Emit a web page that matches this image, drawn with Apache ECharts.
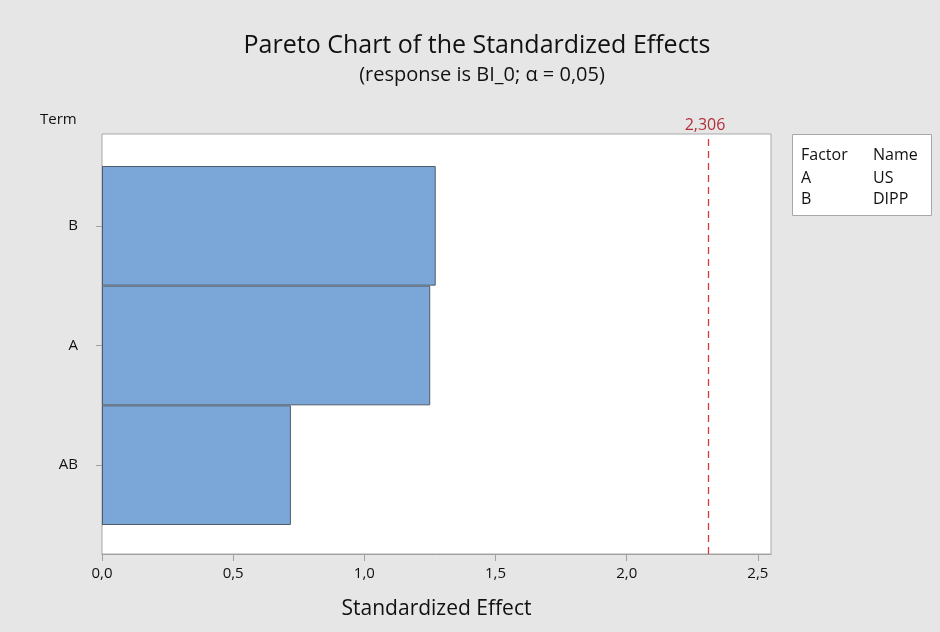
<!DOCTYPE html>
<html>
<head>
<meta charset="utf-8">
<script src="https://cdn.jsdelivr.net/npm/echarts@6/dist/echarts.min.js"></script>
<style>
html,body{margin:0;padding:0;background:#e6e6e6;}
#chart{width:940px;height:632px;}
</style>
</head>
<body>
<div id="chart"></div>
<script>
// ---- data ----
var terms = ['AB', 'A', 'B'];          // bottom to top
var effects = [0.720, 1.251, 1.272];
var criticalValue = 2.306;
var criticalLabel = '2,306';
var xMin = 0, xMax = 2.55, xInterval = 0.5;
var legendFactors = ['A', 'B'];
var legendNames = ['US', 'DIPP'];
var titleText = 'Pareto Chart of the Standardized Effects';
var subtitleText = '(response is BI_0; \u03b1 = 0,05)';
var xAxisTitle = 'Standardized Effect';
var yAxisTitle = 'Term';

var FONT = '"Open Sans", "Noto Sans", sans-serif';
var TXT = '#111111';
var chart = echarts.init(document.getElementById('chart'));

var legendTexts = [
  {type:'text', x:801, y:155, style:{text:'Factor', font:'16px ' + FONT, fill:TXT, textVerticalAlign:'middle'}},
  {type:'text', x:873, y:155, style:{text:'Name', font:'16px ' + FONT, fill:TXT, textVerticalAlign:'middle'}}
];
legendFactors.forEach(function (f, i) {
  legendTexts.push({type:'text', x:801, y:178 + i * 21.5, style:{text:f, font:'16px ' + FONT, fill:TXT, textVerticalAlign:'middle'}});
  legendTexts.push({type:'text', x:873, y:178 + i * 21.5, style:{text:legendNames[i], font:'16px ' + FONT, fill:TXT, textVerticalAlign:'middle'}});
});

var option = {
  backgroundColor: '#e6e6e6',
  animation: false,
  textStyle: {fontFamily: FONT},
  graphic: [
    {type:'text', x:477, y:46, style:{text:titleText, font:'25px ' + FONT, fill:TXT, textAlign:'center', textVerticalAlign:'middle'}},
    {type:'text', x:482, y:75, style:{text:subtitleText, font:'20px ' + FONT, fill:TXT, textAlign:'center', textVerticalAlign:'middle'}},
    {type:'text', x:40, y:120, style:{text:yAxisTitle, font:'15px ' + FONT, fill:TXT, textAlign:'left', textVerticalAlign:'middle'}},
    {type:'rect', shape:{x:792.5, y:134.5, width:139, height:81}, style:{fill:'#ffffff', stroke:'#a8a8a8', lineWidth:1}}
  ].concat(legendTexts),
  grid: [
    {left:102, right:169, top:134, bottom:78, show:true, backgroundColor:'#ffffff', borderColor:'#a8a8a8', borderWidth:1, containLabel:false, outerBoundsMode:'none'},
    {left:102, right:169, top:166, bottom:107, containLabel:false, outerBoundsMode:'none'}
  ],
  xAxis: [
    {
      gridIndex:0, type:'value', min:xMin, max:xMax, interval:xInterval,
      name: xAxisTitle, nameLocation:'middle', nameGap:45,
      nameTextStyle:{fontSize:21, color:TXT, fontFamily:FONT},
      axisLine:{show:true, lineStyle:{color:'#a0a0a0'}},
      axisTick:{show:true, length:7, lineStyle:{color:'#a0a0a0'}},
      splitLine:{show:false},
      axisLabel:{
        fontSize:15, color:TXT, margin:12, showMaxLabel:false, fontFamily:FONT,
        formatter:function (v) { return v.toFixed(1).replace('.', ','); }
      }
    },
    {gridIndex:1, type:'value', min:xMin, max:xMax, show:false}
  ],
  yAxis: [
    {gridIndex:0, type:'value', min:0, max:1, show:false},
    {
      gridIndex:1, type:'category', data:terms,
      axisLine:{show:true, lineStyle:{color:'#a0a0a0'}},
      axisTick:{show:true, alignWithLabel:true, length:6, lineStyle:{color:'#a0a0a0'}},
      axisLabel:{fontSize:15, color:TXT, margin:24, fontFamily:FONT},
      splitLine:{show:false}
    }
  ],
  series: [
    {
      type:'bar', xAxisIndex:1, yAxisIndex:1, data:effects,
      barCategoryGap:'0%',
      itemStyle:{color:'#7ba6d8', borderColor:'#4f5b6b', borderWidth:1}
    },
    {
      type:'line', xAxisIndex:0, yAxisIndex:0, data:[],
      markLine:{
        silent:true, symbol:'none',
        lineStyle:{color:'#d9383a', type:[7,5], width:1.3},
        label:{show:true, position:'end', formatter:criticalLabel, color:'#b0303a', fontSize:16, fontFamily:FONT, distance:1, offset:[-3,0]},
        data:[{xAxis:criticalValue}]
      }
    }
  ]
};
chart.setOption(option);
</script>
</body>
</html>
